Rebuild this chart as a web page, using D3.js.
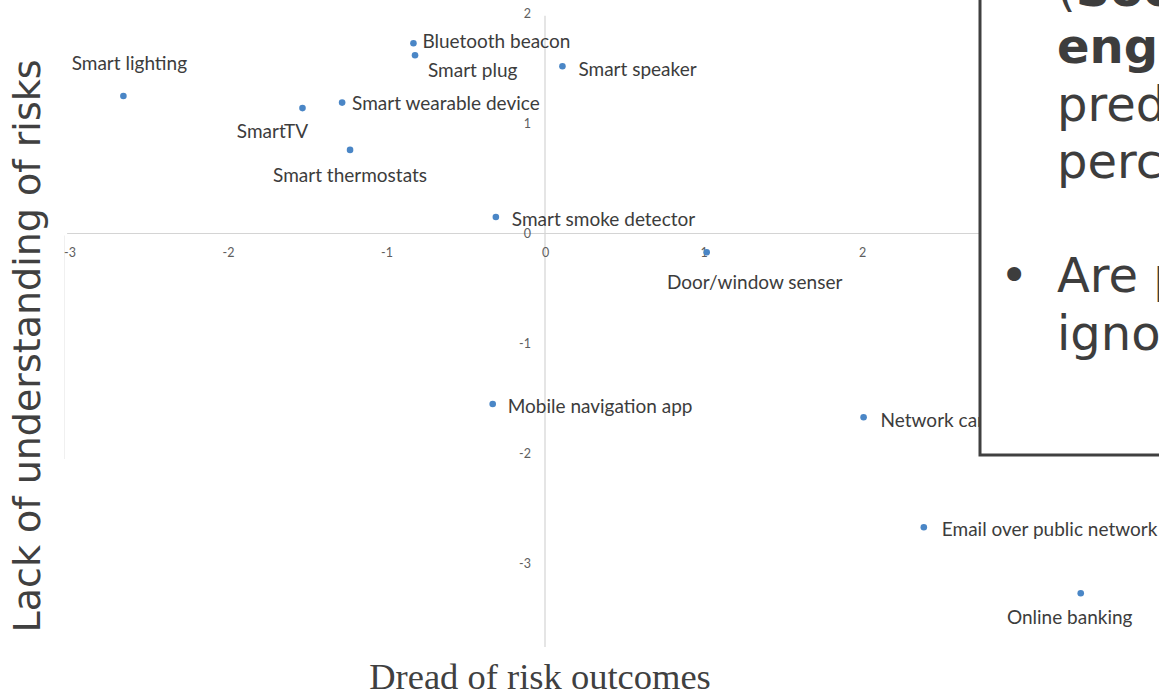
<!DOCTYPE html>
<html>
<head>
<meta charset="utf-8">
<script src="https://cdn.jsdelivr.net/npm/d3@7/dist/d3.min.js"></script>
<style>
  html, body { margin: 0; padding: 0; background: #ffffff; overflow: hidden; }
  svg { display: block; }
</style>
</head>
<body>
<svg id="chart" width="1159" height="694"></svg>
<script>
// ---- data ----
const devices = [
  "Smart lighting", "SmartTV", "Smart wearable device", "Smart thermostats",
  "Bluetooth beacon", "Smart plug", "Smart speaker", "Smart smoke detector",
  "Door/window senser", "Mobile navigation app", "Network camera",
  "Email over public network", "Online banking"
];
const dreadValues = [-2.66, -1.53, -1.28, -1.23, -0.83, -0.82, 0.11, -0.31, 1.02, -0.33, 2.01, 2.39, 3.38];
const lackValues  = [ 1.25,  1.14,  1.19,  0.76,  1.73,  1.62, 1.52,  0.15, -0.17, -1.55, -1.67, -2.67, -3.27];
const xTickValues = [-3, -2, -1, 0, 1, 2];
const yTickValues = [2, 1, 0, -1, -2, -3];
const xTitle = "Dread of risk outcomes";
const yTitle = "Lack of understanding of risks";
const boxLines = [
  [{t: "(", b: false}, {t: "Soc", b: true}],
  [{t: "engi", b: true}],
  [{t: "pred", b: false}],
  [{t: "perc", b: false}],
  [{t: "Are p", b: false}],
  [{t: "igno", b: false}]
];
// label placement (anchor, dx, dy) per device, in pixels
const labelPlacement = [
  ["middle", 6, -34], ["middle", -30, 22], ["start", 10, 0], ["middle", 0, 25],
  ["start", 9, -3], ["start", 13, 14], ["start", 16, 2], ["start", 16, 1],
  ["middle", 48, 29], ["start", 15, 1], ["start", 17, 2], ["start", 18, 1],
  ["middle", -11, 23]
];

const points = devices.map((d, i) => ({name: d, x: dreadValues[i], y: lackValues[i], p: labelPlacement[i]}));

const svg = d3.select("#chart");
svg.append("rect").attr("width", 1159).attr("height", 694).attr("fill", "#ffffff");

const x = d3.scaleLinear().domain([-3, 3]).range([69.5, 1020.5]);
const y = d3.scaleLinear().domain([2, -3]).range([13.5, 563.5]);

const axisColor = "#d4d4d4";
const labelFont = "Lato, 'Open Sans', sans-serif";

// faint artifact line at left
svg.append("line")
  .attr("x1", x(-3) - 5).attr("x2", x(-3) - 5)
  .attr("y1", y(0) + 2).attr("y2", y(-2.05))
  .attr("stroke", "#f0f0f0").attr("stroke-width", 1);

// axis lines
svg.append("line")
  .attr("x1", x(-3.015)).attr("x2", x(3.2))
  .attr("y1", y(0)).attr("y2", y(0))
  .attr("stroke", axisColor).attr("stroke-width", 1.2);
svg.append("line")
  .attr("x1", x(0)).attr("x2", x(0))
  .attr("y1", y(1.98)).attr("y2", y(-3.76))
  .attr("stroke", axisColor).attr("stroke-width", 1.2);

// tick labels via d3 axes
const xAxis = d3.axisBottom(x).tickValues(xTickValues).tickSize(0).tickPadding(15)
  .tickFormat(d => String(d));
const gx = svg.append("g").attr("transform", `translate(0,${y(0)})`).call(xAxis);
gx.select(".domain").remove();
gx.selectAll("text").attr("fill", "#5e5e5e").attr("font-family", labelFont).attr("font-size", 12.5);

const yAxis = d3.axisLeft(y).tickValues(yTickValues).tickSize(0).tickPadding(14)
  .tickFormat(d => String(d));
const gy = svg.append("g").attr("transform", `translate(${x(0)},0)`).call(yAxis);
gy.select(".domain").remove();
gy.selectAll("text").attr("fill", "#5e5e5e").attr("font-family", labelFont).attr("font-size", 12.5);

// points
svg.append("g").selectAll("circle").data(points).join("circle")
  .attr("cx", d => x(d.x)).attr("cy", d => y(d.y)).attr("r", 3.3)
  .attr("fill", "#4a86c6");

// labels
svg.append("g").selectAll("text").data(points).join("text")
  .attr("x", d => x(d.x) + d.p[1])
  .attr("y", d => y(d.y) + d.p[2])
  .attr("text-anchor", d => d.p[0])
  .attr("dominant-baseline", "central")
  .attr("font-family", labelFont)
  .attr("font-size", 19)
  .attr("fill", "#3c3c3c")
  .text(d => d.name);

// axis titles
svg.append("text")
  .attr("x", 540).attr("y", 689)
  .attr("text-anchor", "middle")
  .attr("font-family", "'Liberation Serif', 'Times New Roman', serif")
  .attr("font-size", 36.5)
  .attr("fill", "#404040")
  .text(xTitle);

svg.append("text")
  .attr("transform", "translate(40,346) rotate(-90)")
  .attr("text-anchor", "middle")
  .attr("font-family", "'DejaVu Sans', sans-serif")
  .attr("font-size", 38)
  .attr("fill", "#404040")
  .text(yTitle);

// overlay text box
svg.append("rect")
  .attr("x", 980).attr("y", -10).attr("width", 220).attr("height", 465)
  .attr("fill", "#ffffff").attr("stroke", "#404040").attr("stroke-width", 3);

const baselines = [6, 63, 121, 178, 292, 350];
const boxText = svg.append("g")
  .attr("font-family", "'DejaVu Sans', sans-serif")
  .attr("font-size", 48)
  .attr("fill", "#3d3d3d");
boxLines.forEach((line, i) => {
  const t = boxText.append("text").attr("x", 1057).attr("y", baselines[i]);
  line.forEach(seg => t.append("tspan").attr("font-weight", seg.b ? "bold" : "normal").text(seg.t));
});
boxText.append("text").attr("x", 1000).attr("y", 292).text("•");
</script>
</body>
</html>
